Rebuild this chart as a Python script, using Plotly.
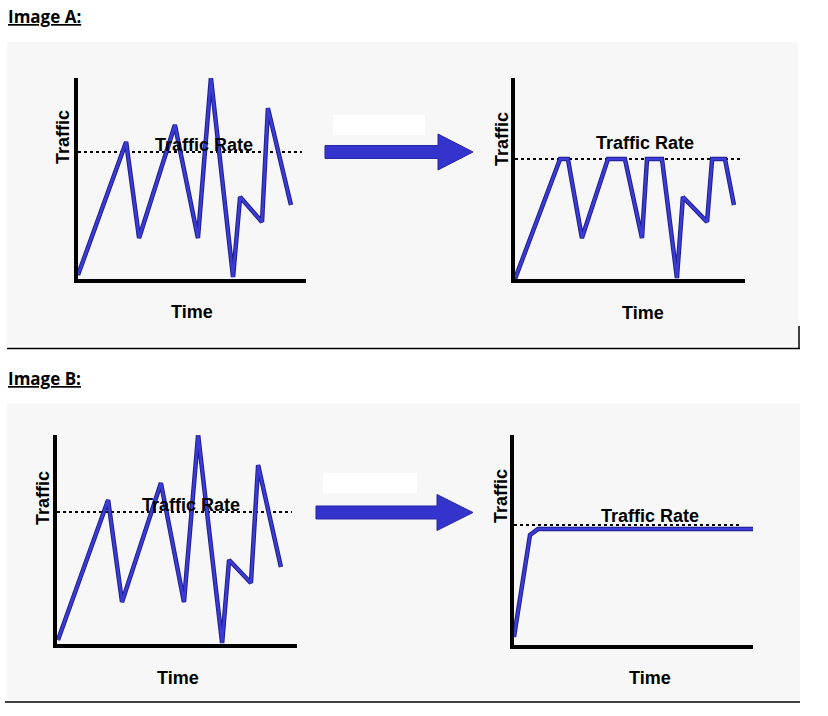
import plotly.graph_objects as go

W, H = 828, 716

# ---------------- data (0-100 scale on both axes) ----------------
a_left_time = [0, 21.1, 26.8, 42.5, 52.6, 58.3, 68.0, 71.1, 80.7, 83.3, 93.4]
a_left_traffic = [2, 68.2, 20.4, 76.6, 20.4, 100, 1, 40.8, 28.4, 85, 36.8]
a_left_rate_time = [0, 98.2]
a_left_rate = [63.2, 63.2]

a_right_time = [0, 19.6, 23.0, 29.1, 40.4, 47.8, 55.2, 57.4, 63.9, 70.4, 73.0, 83.5, 85.7, 91.3, 95.2]
a_right_traffic = [0, 59.7, 59.7, 20.4, 59.7, 59.7, 20.4, 59.7, 59.7, 0.5, 40.8, 28.4, 59.7, 59.7, 36.8]
a_right_rate_time = [0, 98.7]
a_right_rate = [59.7, 59.7]

b_left_time = [0.4, 21.3, 27.1, 43.3, 52.9, 58.8, 68.8, 71.7, 80.8, 83.8, 93.3]
b_left_traffic = [1.9, 68.9, 20.1, 77, 20.1, 100, 0.5, 40.2, 29.2, 85.6, 36.8]
b_left_rate_time = [0, 97.9]
b_left_rate = [63.2, 63.2]

b_right_time = [0, 6.7, 10.0, 100]
b_right_traffic = [3.8, 52.4, 55.2, 55.2]
b_right_rate_time = [0, 95.4]
b_right_rate = [57.1, 57.1]

section_titles = ["Image A:", "Image B:"]
x_label = "Time"
y_label = "Traffic"
rate_label = "Traffic Rate"

# ---------------- helpers ----------------
def fx(p):
    return p / W

def fy(p):
    return 1 - p / H

BLUE = "#3b3bd9"
BLUE_EDGE = "#1f1f8a"
FONT = "Liberation Sans"
LABEL_SIZE = 18

fig = go.Figure()

panels = [
    (a_left_time, a_left_traffic, a_left_rate_time, a_left_rate, (78, 306, 78, 279), (55.3, 66.7)),
    (a_right_time, a_right_traffic, a_right_rate_time, a_right_rate, (515, 745, 78, 279), (56.5, 67.7)),
    (b_left_time, b_left_traffic, b_left_rate_time, b_left_rate, (57, 297, 435, 644), (55.8, 66.5)),
    (b_right_time, b_right_traffic, b_right_rate_time, b_right_rate, (514, 753, 435, 645), (56.9, 61.4)),
]

layout_axes = {}
annotations = []
for i, (t, v, rt, rv, (l, r, tp, bt), (lx, ly)) in enumerate(panels, start=1):
    xa = "x" if i == 1 else f"x{i}"
    ya = "y" if i == 1 else f"y{i}"
    fig.add_trace(go.Scatter(x=rt, y=rv, mode="lines", xaxis=xa, yaxis=ya,
                             line=dict(color="black", width=2, dash="dot"),
                             showlegend=False, hoverinfo="skip"))
    fig.add_trace(go.Scatter(x=t, y=v, mode="lines", xaxis=xa, yaxis=ya,
                             line=dict(color=BLUE_EDGE, width=4.5),
                             showlegend=False, hoverinfo="skip"))
    fig.add_trace(go.Scatter(x=t, y=v, mode="lines", xaxis=xa, yaxis=ya,
                             line=dict(color=BLUE, width=2.5),
                             showlegend=False, hoverinfo="skip"))
    axcommon = dict(range=[0, 100], showgrid=False, zeroline=False,
                    showticklabels=False, ticks="", showline=True,
                    linewidth=4, linecolor="black", fixedrange=True)
    layout_axes["xaxis" if i == 1 else f"xaxis{i}"] = dict(
        domain=[fx(l), fx(r)], anchor=ya, **axcommon)
    layout_axes["yaxis" if i == 1 else f"yaxis{i}"] = dict(
        domain=[fy(bt), fy(tp)], anchor=xa, **axcommon)
    annotations.append(dict(x=lx, y=ly, xref=xa, yref=ya, text=f"<b>{rate_label}</b>",
                            showarrow=False, font=dict(family=FONT, size=LABEL_SIZE, color="black"),
                            xanchor="center", yanchor="middle"))

time_pos = [(192, 312), (643, 313), (178, 678), (650, 678)]
traffic_pos = [(63, 137), (502, 139), (43, 498), (501, 496)]
for (px, py) in time_pos:
    annotations.append(dict(x=fx(px), y=fy(py), xref="paper", yref="paper",
                            text=f"<b>{x_label}</b>", showarrow=False,
                            font=dict(family=FONT, size=LABEL_SIZE, color="black"),
                            xanchor="center", yanchor="middle"))
for (px, py) in traffic_pos:
    annotations.append(dict(x=fx(px), y=fy(py), xref="paper", yref="paper",
                            text=f"<b>{y_label}</b>", showarrow=False, textangle=-90,
                            font=dict(family=FONT, size=LABEL_SIZE, color="black"),
                            xanchor="center", yanchor="middle"))

for title, py in zip(section_titles, [17, 378]):
    annotations.append(dict(x=fx(6), y=fy(py), xref="paper", yref="paper",
                            text=f"<u><b>{title}</b></u>", showarrow=False,
                            font=dict(family="Open Sans", size=17, color="black"),
                            xanchor="left", yanchor="middle"))

shapes = []
for (l, t, r, b) in [(7, 42, 798, 345), (7, 403, 800, 700)]:
    shapes.append(dict(type="rect", xref="paper", yref="paper", layer="below",
                       x0=fx(l), x1=fx(r), y0=fy(b), y1=fy(t),
                       fillcolor="#f7f7f7", line=dict(width=0)))
for (x0, y0, x1, y1) in [(7, 348.5, 800, 348.5), (799, 326, 799, 349), (5, 702, 800, 702)]:
    shapes.append(dict(type="line", xref="paper", yref="paper",
                       x0=fx(x0), x1=fx(x1), y0=fy(y0), y1=fy(y1),
                       line=dict(color="black", width=1.5)))
for (l, t, r, b) in [(333, 115, 425, 135), (323, 473, 417, 493)]:
    shapes.append(dict(type="rect", xref="paper", yref="paper",
                       x0=fx(l), x1=fx(r), y0=fy(b), y1=fy(t),
                       fillcolor="white", line=dict(width=0)))

def arrow_path(x0, xs, xt, yc, half_shaft, half_head):
    pts = [(x0, yc - half_shaft), (xs, yc - half_shaft), (xs, yc - half_head),
           (xt, yc), (xs, yc + half_head), (xs, yc + half_shaft), (x0, yc + half_shaft)]
    return "M " + " L ".join(f"{fx(px):.5f},{fy(py):.5f}" for px, py in pts) + " Z"

for (x0, xs, xt, yc) in [(325, 438, 473, 152), (316, 437, 473, 512.5)]:
    shapes.append(dict(type="path", xref="paper", yref="paper",
                       path=arrow_path(x0, xs, xt, yc, 6.5, 18),
                       fillcolor="#3434cc", line=dict(color="#2626a8", width=1)))

fig.update_layout(
    width=W, height=H, margin=dict(l=0, r=0, t=0, b=0),
    paper_bgcolor="white", plot_bgcolor="rgba(0,0,0,0)",
    showlegend=False, annotations=annotations, shapes=shapes,
    **layout_axes,
)

fig.write_html("out.html", config={"displayModeBar": False},
               post_script="document.body.style.margin='0';document.body.style.overflow='hidden';")
